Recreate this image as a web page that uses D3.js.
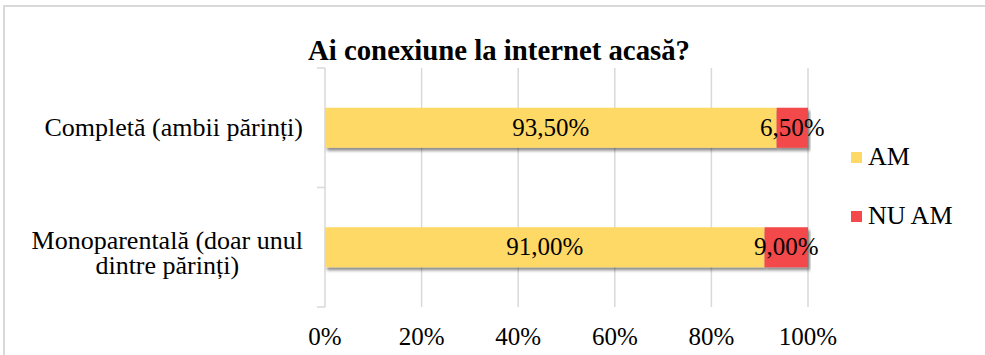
<!DOCTYPE html>
<html>
<head>
<meta charset="utf-8">
<script src="https://cdn.jsdelivr.net/npm/d3@7"></script>
<style>
  html, body { margin: 0; padding: 0; background: #fff; }
  svg { display: block; }
</style>
</head>
<body>
<svg id="chart" width="985" height="355"></svg>
<script>
// Household type categories (each entry holds the wrapped lines of the label)
const categories = ["Completă (ambii părinți)", "Monoparentală (doar unul dintre părinți)"];
const categoryLines = [["Completă (ambii părinți)"], ["Monoparentală (doar unul", "dintre părinți)"]];
const seriesNames = ["AM", "NU AM"];
const amValues = [93.5, 91.0];
const nuAmValues = [6.5, 9.0];
const xTicks = [0, 20, 40, 60, 80, 100];
const colors = ["#FFD966", "#F4484B"];
const title = "Ai conexiune la internet acasă?";

const FONT = "'Liberation Serif', 'DejaVu Serif', serif";

const svg = d3.select("#chart");
const W = 985, H = 355;

// chart frame
svg.append("rect")
  .attr("x", 4).attr("y", 6)
  .attr("width", W + 20).attr("height", H + 20)
  .attr("fill", "none").attr("stroke", "#d9d9d9").attr("stroke-width", 2);

const plot = { left: 325, right: 808, top: 68, bottom: 307 };

const x = d3.scaleLinear().domain([0, 100]).range([plot.left, plot.right]);
const y = d3.scaleBand().domain(categories)
  .range([plot.top, plot.bottom])
  .paddingInner(0.665).paddingOuter(0.3325);

const fmt = v => d3.format(".2f")(v).replace(".", ",") + "%";

// shadow under the bars
const defs = svg.append("defs");
const f = defs.append("filter").attr("id", "shadow")
  .attr("x", "-5%").attr("y", "-20%").attr("width", "110%").attr("height", "160%");
f.append("feDropShadow").attr("dx", 2).attr("dy", 3).attr("stdDeviation", 1.8)
  .attr("flood-color", "#000").attr("flood-opacity", 0.45);

// vertical gridlines
svg.append("g").selectAll("line")
  .data(xTicks.filter(t => t > 0))
  .join("line")
  .attr("x1", d => x(d)).attr("x2", d => x(d))
  .attr("y1", plot.top).attr("y2", plot.bottom)
  .attr("stroke", "#d9d9d9").attr("stroke-width", 1.5);

// category axis line with outward ticks at band boundaries
const axisG = svg.append("g");
axisG.append("line")
  .attr("x1", plot.left).attr("x2", plot.left)
  .attr("y1", plot.top).attr("y2", plot.bottom)
  .attr("stroke", "#d9d9d9").attr("stroke-width", 1.5);
const boundaries = [plot.top, (y(categories[0]) + y.bandwidth() + y(categories[1])) / 2, plot.bottom];
axisG.selectAll("line.tick").data(boundaries).join("line")
  .attr("class", "tick")
  .attr("x1", plot.left - 8).attr("x2", plot.left)
  .attr("y1", d => d).attr("y2", d => d)
  .attr("stroke", "#d9d9d9").attr("stroke-width", 1.5);

// stacked bars
const rows = categories.map((c, i) => ({ cat: c, am: amValues[i], nu: nuAmValues[i] }));
const stack = d3.stack().keys(["am", "nu"])(rows);

const barG = svg.append("g");
stack.forEach((layer, li) => {
  barG.append("g").attr("filter", "url(#shadow)")
    .selectAll("rect").data(layer).join("rect")
    .attr("x", d => x(d[0]))
    .attr("y", d => y(d.data.cat))
    .attr("width", d => x(d[1]) - x(d[0]))
    .attr("height", y.bandwidth())
    .attr("fill", colors[li]);
});

// value labels
stack.forEach((layer, li) => {
  svg.append("g").selectAll("text").data(layer).join("text")
    .attr("x", d => (x(d[0]) + x(d[1])) / 2)
    .attr("y", d => y(d.data.cat) + y.bandwidth() / 2 + 8)
    .attr("text-anchor", "middle")
    .attr("font-family", FONT)
    .attr("font-size", 25)
    .text(d => fmt(d[1] - d[0]));
});

// x tick labels
svg.append("g").selectAll("text").data(xTicks).join("text")
  .attr("x", d => x(d)).attr("y", 345)
  .attr("text-anchor", "middle")
  .attr("font-family", FONT)
  .attr("font-size", 25)
  .text(d => d + "%");

// category labels: right aligned block, lines centred within the block
const labelRight = 303, lineH = 25;
categories.forEach((c, i) => {
  const lines = categoryLines[i];
  const t = svg.append("text")
    .attr("font-family", FONT).attr("font-size", 26)
    .attr("text-anchor", "middle");
  const spans = lines.map(l => t.append("tspan").text(l));
  const maxW = d3.max(spans, s => s.node().getComputedTextLength());
  const cy = y(c) + y.bandwidth() / 2;
  const firstBase = lines.length === 1 ? cy + 8 : cy + 1 - (lines.length - 1) * lineH / 2 + 13;
  spans.forEach((s, k) => {
    s.attr("x", labelRight - maxW / 2)
     .attr("y", firstBase + k * lineH);
  });
});

// legend
const legend = svg.append("g");
seriesNames.forEach((s, i) => {
  const ly = 157 + i * 59;
  legend.append("rect").attr("x", 851).attr("y", ly - 5).attr("width", 11).attr("height", 11)
    .attr("fill", colors[i]);
  legend.append("text").attr("x", 868).attr("y", ly + 8)
    .attr("font-family", FONT).attr("font-size", 26).text(s);
});

// title
svg.append("text")
  .attr("x", 499).attr("y", 60)
  .attr("text-anchor", "middle")
  .attr("font-family", FONT)
  .attr("font-size", 29).attr("font-weight", "bold")
  .attr("textLength", 382).attr("lengthAdjust", "spacingAndGlyphs")
  .text(title);
</script>
</body>
</html>
